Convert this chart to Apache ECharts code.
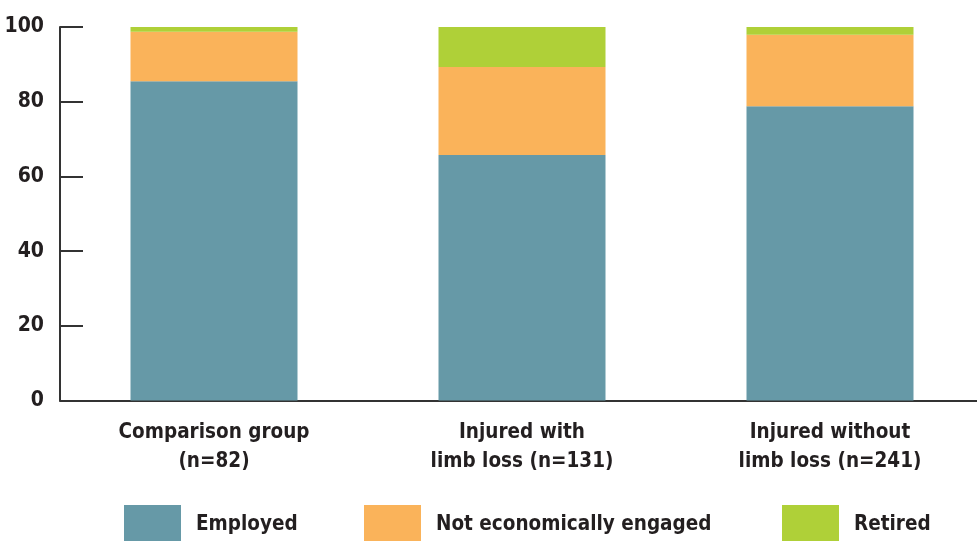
<!DOCTYPE html>
<html>
<head>
<meta charset="utf-8">
<script src="https://cdn.jsdelivr.net/npm/echarts@6/dist/echarts.min.js"></script>
<style>html,body{margin:0;padding:0;background:#fff}#c{width:977px;height:541px}</style>
</head>
<body>
<div id="c"></div>
<script>
const categories = ['Comparison group\n(n=82)', 'Injured with\nlimb loss (n=131)', 'Injured without\nlimb loss (n=241)'];
const employed = [85.5, 65.7, 78.8];
const notEngaged = [13.2, 23.6, 19.1];
const retired = [1.3, 10.7, 2.1];
const seriesNames = ['Employed', 'Not economically engaged', 'Retired'];
const yTicks = [0, 20, 40, 60, 80, 100];

const FONT = '"DejaVu Sans Condensed", "Liberation Sans Narrow", sans-serif';
const TXT = '#231f20';
const colors = ['#6699a7', '#fab35a', '#afd038'];
const chart = echarts.init(document.getElementById('c'));
const legendPos = [124, 364, 782];
chart.setOption({
  animation: false,
  grid: { left: 60, top: 27, width: 924, bottom: 140.5, outerBoundsMode: 'none', containLabel: false },
  legend: seriesNames.map((n, i) => ({
    data: [n], left: legendPos[i], top: 505, icon: 'rect', padding: 0,
    itemWidth: 57, itemHeight: 40, selectedMode: false,
    textStyle: { fontFamily: FONT, fontWeight: 'bold', fontSize: 20.5, color: TXT, padding: [0, 0, 0, 10] }
  })),
  xAxis: {
    type: 'category', data: categories,
    axisLine: { lineStyle: { color: '#333', width: 2 } },
    axisTick: { inside: true, length: 9, lineStyle: { color: '#333', width: 1.5 } },
    axisLabel: { margin: 18, fontFamily: FONT, fontWeight: 'bold', fontSize: 20.5, lineHeight: 29, color: TXT }
  },
  yAxis: {
    type: 'value', min: 0, max: 100, interval: 20,
    splitLine: { show: false },
    axisLine: { show: true, lineStyle: { color: '#333', width: 2 } },
    axisTick: { show: true, inside: true, length: 23, lineStyle: { color: '#333', width: 2 } },
    axisLabel: { margin: 16, fontFamily: FONT, fontWeight: 'bold', fontSize: 21, color: TXT,
      formatter: v => yTicks.includes(v) ? String(v) : '' }
  },
  series: [employed, notEngaged, retired].map((d, i) => ({
    name: seriesNames[i], type: 'bar', stack: 'a', data: d, barWidth: 167,
    itemStyle: { color: colors[i] }
  }))
});
</script>
</body>
</html>
